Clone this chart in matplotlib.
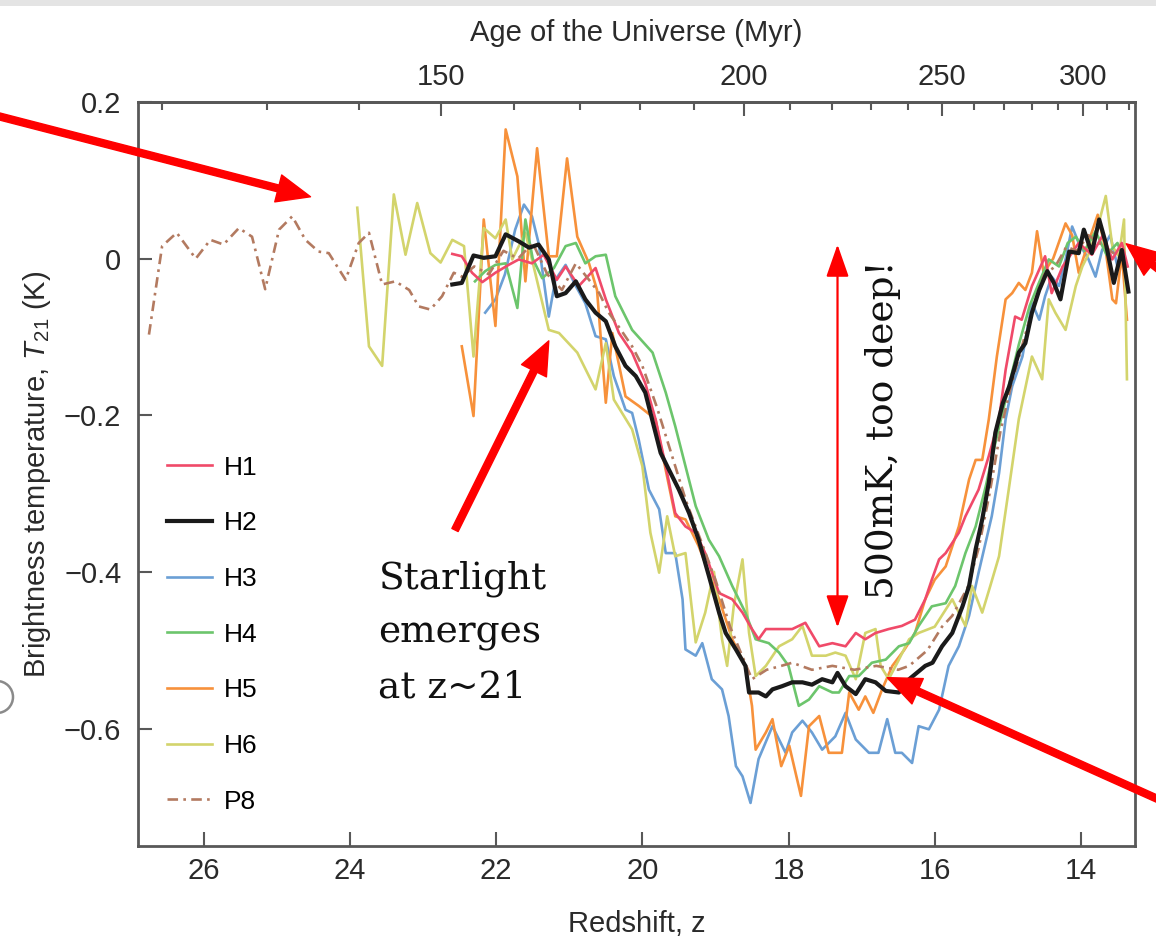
import numpy as np
import matplotlib
matplotlib.use("Agg")
import matplotlib.pyplot as plt
from matplotlib.patches import Rectangle, Ellipse

plt.rcParams['font.family'] = ['Liberation Sans', 'DejaVu Sans']
plt.rcParams['mathtext.fontset'] = 'custom'
plt.rcParams['mathtext.rm'] = 'Liberation Sans'
plt.rcParams['mathtext.it'] = 'Liberation Sans:italic'

# ---- data (redshift z, brightness temperature K) ----
z_h1 = [22.60, 22.47, 22.33, 22.19, 22.01, 21.83, 21.69, 21.51, 21.35, 21.17,
        21.05, 20.87, 20.64, 20.50, 20.32, 20.14, 19.96, 19.82, 19.68, 19.55,
        19.41, 19.27, 19.14, 18.95, 18.77, 18.63, 18.50, 18.41, 18.31, 18.13,
        17.95, 17.77, 17.58, 17.40, 17.22, 17.08, 16.95, 16.81, 16.63, 16.45,
        16.27, 16.13, 16.04, 15.94, 15.85, 15.67, 15.58, 15.40, 15.26, 15.12,
        15.03, 14.90, 14.81, 14.67, 14.49, 14.40, 14.25, 14.03, 13.85, 13.70,
        13.57, 13.44, 13.36]
t_h1 = [0.006, 0.003, -0.018, -0.030, -0.018, -0.008, -0.001, -0.006, 0.005, -0.027,
        -0.010, -0.035, -0.012, -0.052, -0.095, -0.120, -0.159, -0.205, -0.265, -0.325,
        -0.342, -0.350, -0.376, -0.427, -0.435, -0.452, -0.473, -0.486, -0.473, -0.473,
        -0.473, -0.465, -0.495, -0.491, -0.495, -0.478, -0.486, -0.478, -0.473, -0.469,
        -0.461, -0.435, -0.410, -0.384, -0.376, -0.350, -0.329, -0.295, -0.252, -0.205,
        -0.142, -0.074, -0.078, -0.035, 0.003, -0.044, -0.010, 0.020, 0.005, 0.030,
        -0.001, 0.020, -0.010]

z_h2 = [22.60, 22.47, 22.31, 22.17, 22.01, 21.87, 21.69, 21.55, 21.42, 21.28,
        21.17, 21.05, 20.91, 20.78, 20.64, 20.50, 20.37, 20.23, 20.09, 19.96,
        19.84, 19.75, 19.66, 19.50, 19.36, 19.23, 19.09, 18.95, 18.86, 18.72,
        18.59, 18.54, 18.41, 18.31, 18.22, 18.09, 17.95, 17.81, 17.68, 17.54,
        17.40, 17.33, 17.22, 17.08, 16.95, 16.81, 16.67, 16.49, 16.35, 16.22,
        16.13, 16.03, 15.90, 15.76, 15.62, 15.53, 15.44, 15.35, 15.26, 15.17,
        15.07, 14.98, 14.85, 14.76, 14.67, 14.57, 14.46, 14.37, 14.28, 14.16,
        14.03, 13.96, 13.85, 13.75, 13.66, 13.55, 13.44, 13.35]
t_h2 = [-0.033, -0.031, 0.004, 0.001, 0.003, 0.031, 0.022, 0.014, 0.018, -0.001,
        -0.048, -0.044, -0.029, -0.052, -0.069, -0.080, -0.112, -0.137, -0.150, -0.171,
        -0.215, -0.248, -0.265, -0.295, -0.325, -0.359, -0.405, -0.452, -0.478, -0.499,
        -0.520, -0.554, -0.554, -0.559, -0.550, -0.546, -0.541, -0.541, -0.544, -0.537,
        -0.541, -0.529, -0.546, -0.556, -0.537, -0.541, -0.552, -0.554, -0.537, -0.527,
        -0.520, -0.516, -0.495, -0.478, -0.444, -0.418, -0.371, -0.333, -0.286, -0.222,
        -0.185, -0.163, -0.120, -0.108, -0.069, -0.040, -0.016, -0.031, -0.052, 0.009,
        0.007, 0.037, 0.007, 0.050, 0.020, -0.031, 0.011, -0.042]

z_h3 = [22.15, 22.01, 21.88, 21.74, 21.62, 21.51, 21.42, 21.28, 21.19, 21.05,
        20.91, 20.78, 20.64, 20.50, 20.39, 20.23, 20.14, 20.05, 19.91, 19.77,
        19.68, 19.55, 19.45, 19.41, 19.27, 19.18, 19.05, 18.91, 18.82, 18.72,
        18.63, 18.52, 18.41, 18.22, 18.04, 17.95, 17.81, 17.68, 17.54, 17.36,
        17.22, 17.08, 16.90, 16.77, 16.65, 16.54, 16.45, 16.31, 16.22, 16.08,
        15.94, 15.81, 15.67, 15.53, 15.40, 15.22, 15.12, 15.03, 14.94, 14.80,
        14.67, 14.57, 14.49, 14.40, 14.30, 14.21, 14.12, 14.03, 13.90, 13.80,
        13.71, 13.60, 13.50, 13.40]
t_h3 = [-0.069, -0.052, -0.020, 0.037, 0.069, 0.054, 0.020, -0.074, -0.027, -0.008,
        -0.035, -0.057, -0.099, -0.103, -0.150, -0.193, -0.197, -0.231, -0.295, -0.320,
        -0.376, -0.376, -0.435, -0.499, -0.507, -0.491, -0.537, -0.550, -0.584, -0.648,
        -0.661, -0.695, -0.639, -0.597, -0.631, -0.605, -0.590, -0.605, -0.627, -0.610,
        -0.580, -0.614, -0.631, -0.631, -0.588, -0.631, -0.631, -0.644, -0.597, -0.601,
        -0.576, -0.520, -0.495, -0.456, -0.401, -0.329, -0.274, -0.205, -0.163, -0.125,
        -0.057, -0.078, -0.048, -0.023, -0.035, -0.001, 0.041, 0.020, 0.000, -0.023,
        0.011, 0.030, -0.010, 0.000]

z_h4 = [22.29, 22.15, 22.01, 21.87, 21.71, 21.60, 21.50, 21.37, 21.21, 21.05,
        20.91, 20.78, 20.64, 20.50, 20.37, 20.14, 19.86, 19.68, 19.55, 19.41,
        19.27, 19.09, 18.95, 18.77, 18.59, 18.45, 18.27, 18.13, 18.00, 17.86,
        17.72, 17.58, 17.40, 17.31, 17.17, 17.04, 16.86, 16.67, 16.49, 16.35,
        16.22, 16.04, 15.85, 15.72, 15.58, 15.44, 15.30, 15.17, 14.98, 14.85,
        14.70, 14.57, 14.44, 14.30, 14.18, 14.07, 13.95, 13.80, 13.65, 13.50,
        13.38]
t_h4 = [-0.029, -0.016, -0.008, -0.006, -0.063, 0.050, 0.000, -0.025, -0.012, 0.016,
        0.020, -0.006, 0.003, 0.005, -0.048, -0.091, -0.120, -0.171, -0.214, -0.265,
        -0.316, -0.359, -0.380, -0.418, -0.452, -0.486, -0.491, -0.503, -0.520, -0.571,
        -0.563, -0.546, -0.554, -0.554, -0.533, -0.533, -0.516, -0.512, -0.495, -0.491,
        -0.469, -0.444, -0.440, -0.418, -0.376, -0.342, -0.290, -0.235, -0.160, -0.110,
        -0.060, -0.030, -0.001, -0.010, 0.020, 0.028, 0.010, 0.035, 0.005, 0.020,
        -0.010]

z_h5 = [22.47, 22.31, 22.17, 22.01, 21.87, 21.71, 21.60, 21.44, 21.28, 21.17,
        21.03, 20.89, 20.73, 20.62, 20.50, 20.41, 20.23, 20.05, 19.82, 19.68,
        19.55, 19.41, 19.23, 18.95, 18.77, 18.59, 18.50, 18.45, 18.31, 18.22,
        18.10, 17.99, 17.83, 17.72, 17.58, 17.45, 17.27, 17.17, 17.04, 16.95,
        16.84, 16.72, 16.58, 16.42, 16.27, 16.13, 16.00, 15.85, 15.67, 15.53,
        15.44, 15.35, 15.26, 15.15, 15.03, 14.94, 14.85, 14.76, 14.67, 14.60,
        14.51, 14.38, 14.21, 14.12, 14.03, 13.90, 13.77, 13.66, 13.57, 13.52,
        13.44, 13.37]
t_h5 = [-0.112, -0.201, 0.050, -0.086, 0.165, 0.105, -0.029, 0.141, 0.003, 0.003,
        0.128, 0.028, -0.006, -0.040, -0.184, -0.095, -0.176, -0.188, -0.205, -0.270,
        -0.329, -0.333, -0.367, -0.435, -0.486, -0.520, -0.571, -0.627, -0.605, -0.588,
        -0.648, -0.622, -0.686, -0.597, -0.584, -0.631, -0.631, -0.554, -0.576, -0.559,
        -0.580, -0.550, -0.520, -0.500, -0.478, -0.435, -0.410, -0.393, -0.342, -0.282,
        -0.257, -0.257, -0.205, -0.125, -0.052, -0.044, -0.031, -0.040, -0.018, 0.035,
        -0.018, 0.000, 0.045, 0.030, -0.018, 0.020, 0.056, 0.010, -0.052, -0.057,
        0.007, -0.078]

z_h6 = [23.90, 23.74, 23.56, 23.40, 23.24, 23.08, 22.90, 22.76, 22.60, 22.44,
        22.31, 22.17, 22.01, 21.87, 21.78, 21.60, 21.51, 21.28, 21.14, 20.89,
        20.64, 20.50, 20.39, 20.14, 20.00, 19.89, 19.77, 19.66, 19.55, 19.41,
        19.27, 19.14, 19.02, 18.91, 18.84, 18.75, 18.63, 18.54, 18.45, 18.31,
        18.13, 17.95, 17.81, 17.68, 17.49, 17.36, 17.22, 17.08, 16.95, 16.81,
        16.74, 16.63, 16.49, 16.35, 16.22, 16.00, 15.76, 15.58, 15.49, 15.35,
        15.24, 15.12, 14.98, 14.85, 14.67, 14.53, 14.44, 14.35, 14.21, 14.07,
        13.98, 13.89, 13.77, 13.66, 13.57, 13.48, 13.41, 13.37]
t_h6 = [0.065, -0.112, -0.137, 0.082, 0.005, 0.071, 0.007, -0.005, 0.024, 0.016,
        -0.125, 0.039, 0.026, 0.050, -0.001, 0.033, -0.001, -0.091, -0.095, -0.120,
        -0.167, -0.108, -0.180, -0.218, -0.265, -0.350, -0.401, -0.329, -0.380, -0.376,
        -0.490, -0.452, -0.400, -0.486, -0.520, -0.444, -0.384, -0.478, -0.533, -0.520,
        -0.495, -0.486, -0.469, -0.507, -0.507, -0.503, -0.507, -0.537, -0.478, -0.473,
        -0.520, -0.537, -0.512, -0.486, -0.478, -0.470, -0.435, -0.469, -0.418, -0.452,
        -0.418, -0.380, -0.290, -0.205, -0.125, -0.154, -0.052, -0.069, -0.091, -0.035,
        -0.010, 0.007, 0.040, 0.080, 0.016, 0.003, 0.050, -0.154]

z_p8 = [26.75, 26.57, 26.37, 26.11, 25.91, 25.73, 25.52, 25.34, 25.16, 24.97,
        24.79, 24.61, 24.43, 24.29, 24.06, 23.88, 23.74, 23.56, 23.38, 23.19,
        23.06, 22.90, 22.74, 22.58, 22.47, 22.30, 22.10, 21.90, 21.70, 21.50,
        21.30, 21.10, 20.91, 20.73, 20.59, 20.46, 20.30, 20.14, 20.00, 19.80,
        19.60, 19.40, 19.20, 19.00, 18.80, 18.60, 18.50, 18.30, 18.10, 17.95,
        17.68, 17.40, 17.10, 16.80, 16.50, 16.35, 16.10, 15.90, 15.76, 15.55,
        15.40, 15.25, 15.10, 14.95, 14.80, 14.65, 14.50, 14.35, 14.20, 14.05,
        13.90, 13.75, 13.60, 13.45]
t_p8 = [-0.097, 0.016, 0.033, 0.000, 0.024, 0.018, 0.039, 0.028, -0.039, 0.037,
        0.054, 0.024, 0.009, 0.007, -0.027, 0.020, 0.033, -0.033, -0.029, -0.040,
        -0.061, -0.065, -0.048, -0.018, -0.023, -0.010, -0.020, 0.010, 0.000, 0.020,
        -0.020, -0.040, -0.006, -0.027, -0.044, -0.069, -0.090, -0.112, -0.137, -0.190,
        -0.250, -0.310, -0.360, -0.410, -0.470, -0.515, -0.537, -0.525, -0.520, -0.516,
        -0.525, -0.520, -0.525, -0.520, -0.525, -0.520, -0.500, -0.470, -0.456, -0.420,
        -0.370, -0.300, -0.220, -0.160, -0.110, -0.060, -0.020, -0.010, 0.015, 0.010,
        0.030, 0.020, 0.010, 0.000]

y_ticks = [-0.6, -0.4, -0.2, 0.0, 0.2]
x_ticks = [26, 24, 22, 20, 18, 16, 14]
age_major = [150, 200, 250, 300]
age_minor = [120, 130, 140, 160, 170, 180, 190, 210, 220, 230, 240, 260, 270, 280, 290, 310, 320]

AGE_CONST = 17370.0  # Myr * (1+z)^1.5


def z_to_age(z):
    z = np.asarray(z, dtype=float)
    return AGE_CONST * np.power(np.clip(1 + z, 1e-3, None), -1.5)


def age_to_z(a):
    a = np.asarray(a, dtype=float)
    return np.power(np.clip(a, 1e-3, None) / AGE_CONST, -2.0 / 3.0) - 1


W, H = 1156, 940
fig = plt.figure(figsize=(W / 100, H / 100), dpi=100)
ax = fig.add_axes([138 / W, 1 - 846 / H, 997 / W, 744 / H])

series = [
    ('H3', z_h3, t_h3, '#6b9fd5', 1.9, '-'),
    ('H5', z_h5, t_h5, '#f7913b', 1.9, '-'),
    ('H6', z_h6, t_h6, '#d3d46c', 1.9, '-'),
    ('H4', z_h4, t_h4, '#6cc56c', 1.9, '-'),
    ('H1', z_h1, t_h1, '#f04a69', 1.9, '-'),
    ('P8', z_p8, t_p8, '#b37a60', 1.9, (0, (4, 2, 1, 2))),
    ('H2', z_h2, t_h2, '#1a1a1a', 3.0, '-'),
]
handles = {}
for name, zs, ts, col, lw, ls in series:
    ln, = ax.plot(zs, ts, color=col, lw=lw, ls=ls, solid_joinstyle='round')
    handles[name] = ln

order = ['H1', 'H2', 'H3', 'H4', 'H5', 'H6', 'P8']
ax.legend([handles[k] for k in order], order, loc='upper left',
          bbox_to_anchor=(0.019, 0.539), borderaxespad=0, frameon=False,
          fontsize=19, handlelength=1.7, handletextpad=0.45, labelspacing=1.2)

ax.set_xlim(26.9, 13.26)
ax.set_ylim(-0.75, 0.2)
ax.set_xticks(x_ticks)
ax.set_yticks(y_ticks)
ax.set_yticklabels(['0' if v == 0 else f'{v:.1f}'.replace('-', '\u2212') for v in y_ticks])

spine_col = '#585858'
for sp in ax.spines.values():
    sp.set_color(spine_col)
    sp.set_linewidth(2)
ax.tick_params(axis='x', direction='in', length=10, width=1.5, color=spine_col,
               labelsize=21, labelcolor='#2a2a2a', pad=8)
ax.tick_params(axis='y', direction='in', length=10, width=1.5, color=spine_col,
               labelsize=21, labelcolor='#2a2a2a', pad=12)

ax.set_xlabel('Redshift, z', fontsize=21, color='#2a2a2a', labelpad=18)
ax.set_ylabel('Brightness temperature, $T_{21}$ (K)', fontsize=21, color='#2a2a2a', labelpad=8)

secax = ax.secondary_xaxis('top', functions=(z_to_age, age_to_z))
secax.set_xticks(age_major)
secax.set_xticks(age_minor, minor=True)
secax.spines['top'].set_color(spine_col)
secax.spines['top'].set_linewidth(2)
secax.tick_params(which='major', direction='in', length=10, width=1.5, color=spine_col,
                  labelsize=21, labelcolor='#2a2a2a', pad=8)
secax.tick_params(which='minor', direction='in', length=6, width=1.5, color=spine_col)
secax.set_xlabel('Age of the Universe (Myr)', fontsize=21, color='#2a2a2a', labelpad=16)

# ---- annotations ----
red = '#ff0000'
thick = dict(color=red, width=5, headwidth=20, headlength=24, shrink=0)


def ff(px, py):
    return (px / W, 1 - py / H)


ax.annotate('', xy=(24.54, 0.079), xytext=ff(-10, 114), textcoords='figure fraction',
            arrowprops=thick, annotation_clip=False)
ax.annotate('', xy=(21.28, -0.105), xytext=ff(455, 530), textcoords='figure fraction',
            arrowprops=thick, annotation_clip=False)
ax.annotate('', xy=(16.65, -0.535), xytext=ff(1200, 818), textcoords='figure fraction',
            arrowprops=thick, annotation_clip=False)
ax.annotate('', xy=(13.38, 0.019), xytext=ff(1300, 380), textcoords='figure fraction',
            arrowprops=thick, annotation_clip=False)

ax.annotate('', xy=(17.33, 0.018), xytext=(17.33, -0.471),
            arrowprops=dict(arrowstyle='<|-|>,head_length=1.0,head_width=0.35',
                            color=red, lw=1.6, mutation_scale=20, shrinkA=0, shrinkB=0))

serif = ['DejaVu Serif']
ax.text(16.71, -0.218, '500mK, too deep!', rotation=90, ha='center', va='center',
        fontsize=27, family=serif, color='#111111')
ax.text(23.61, -0.385, 'Starlight\nemerges\nat z~21', ha='left', va='top',
        fontsize=27, family=serif, color='#111111', linespacing=1.65)

# ---- page furniture around the figure ----
fig.patches.append(Rectangle((0, 1 - 6 / H), 1, 6 / H, transform=fig.transFigure,
                             facecolor='#e4e4e4', edgecolor='none', zorder=0))
fig.patches.append(Ellipse(ff(-3, 697), 32 / W, 32 / H, transform=fig.transFigure,
                           facecolor='none', edgecolor='#8a8a8a', lw=1.8))

fig.savefig('out.png', dpi=100)
